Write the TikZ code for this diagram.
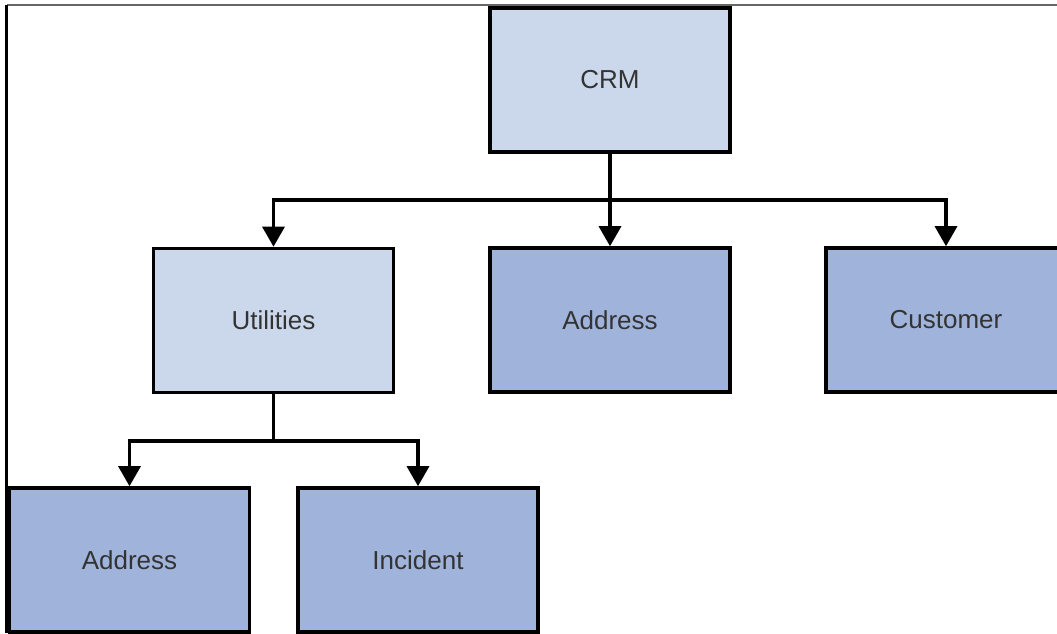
\documentclass[tikz,border=0pt]{standalone}
\usepackage{fontspec}
\setmainfont{Liberation Sans}
\usetikzlibrary{arrows.meta}
\definecolor{lightbox}{HTML}{CBD8EB}
\definecolor{darkbox}{HTML}{A0B4DB}
\definecolor{txt}{HTML}{333333}
\definecolor{frametop}{HTML}{666666}
\begin{document}
\begin{tikzpicture}[x=0.75pt,y=-0.75pt,
  box/.style={draw=black, line width=2.7pt, minimum width=180pt, minimum height=108pt,
    inner sep=0pt, text=txt, font=\fontsize{19.5}{23}\selectfont},
  lightnode/.style={box, fill=lightbox},
  darknode/.style={box, fill=darkbox},
  conn/.style={draw=black, line width=2.4pt},
  arr/.style={conn, -{Triangle[width=16.5pt,length=15pt]}}]
\useasboundingbox (0,0) rectangle (1057,633);
\clip (0,0) rectangle (1057,633);
\fill[white] (0,0) rectangle (1057,633);
\draw[frametop, line width=1.5pt] (6.5,4.5) -- (1057,4.5);
\draw[black, line width=1.8pt] (6.5,4.5) -- (6.5,633);
\node[lightnode] (crm) at (610,80) {CRM};
\node[lightnode] (util) at (273.5,320.5) {Utilities};
\node[darknode] (addrm) at (610,320) {Address};
\node[darknode] (cust) at (946,320) {Customer};
\node[darknode] (addrb) at (129.5,560) {Address};
\node[darknode] (inc) at (418,560) {Incident};
\coordinate (j1) at (610,200);
\coordinate (j2) at (273.5,441);
\draw[conn] (crm.south) -- (j1);
\draw[arr] (j1) -| (util.north);
\draw[arr] (j1) -- (addrm.north);
\draw[arr] (j1) -| (cust.north);
\draw[conn] (util.south) -- (j2);
\draw[arr] (j2) -| (addrb.north);
\draw[arr] (j2) -| (inc.north);
\end{tikzpicture}
\end{document}
